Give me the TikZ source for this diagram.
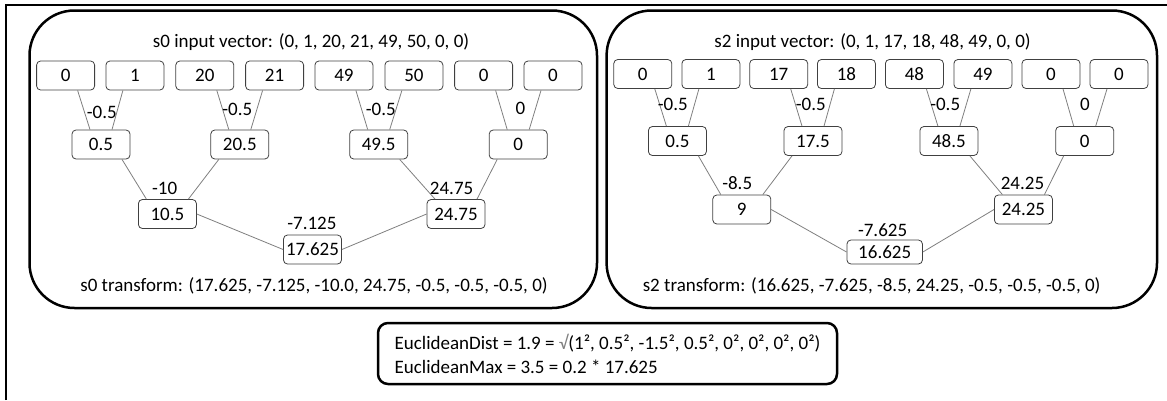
\documentclass[tikz,border=0pt]{standalone}
\usepackage{fontspec}
\setmainfont{Carlito}
\usetikzlibrary{calc}

\definecolor{boxgray}{HTML}{404040}
\definecolor{wiregray}{HTML}{7F7F7F}

\tikzset{
	every node/.style={font=\fontsize{19}{24}\selectfont},
	valbox/.style={draw=boxgray, line width=0.8pt, rounded corners=4pt, minimum width=58pt, minimum height=29pt, inner sep=1pt},
	wire/.style={draw=wiregray, line width=0.8pt},
	panel/.style={draw=black, line width=2.5pt, rounded corners=45pt},
	coef/.style={inner sep=0pt}
}

\begin{document}
\begin{tikzpicture}[x=1pt,y=-1pt]
	\pgfmathsetmacro{\lo}{12}		%offset of wire on the lower box
	\pgfmathsetmacro{\hi}{11}		%offset of wire on the upper box
	\pgfmathsetmacro{\mo}{21}		%offset of wires between middle rows

	\useasboundingbox (0,0) rectangle (1167,400);

	%frame
	\draw[line width=2pt] (5.5,400) -- (5.5,4.5) -- (1167,4.5);

	%left panel
	\draw[panel] (29.5,10.5) rectangle (597,308);
	\node (ltitle) at (311,42) {s0 input vector: (0, 1, 20, 21, 49, 50, 0, 0)};
	\node[valbox] (ll1) at (65.6,75.5) {0};
	\node[valbox] (ll2) at (134.9,75.5) {1};
	\node[valbox] (ll3) at (204.8,75.5) {20};
	\node[valbox] (ll4) at (274.6,75.5) {21};
	\node[valbox] (ll5) at (343.9,75.5) {49};
	\node[valbox] (ll6) at (413.9,75.5) {50};
	\node[valbox] (ll7) at (483.6,75.5) {0};
	\node[valbox] (ll8) at (553,75.5) {0};
	\node[valbox] (lm1) at (101,144.5) {0.5};
	\node[valbox] (lm2) at (239.8,144.5) {20.5};
	\node[valbox] (lm3) at (378.7,144.5) {49.5};
	\node[valbox] (lm4) at (518.2,144.5) {0};
	\node[valbox] (ln1) at (167.4,214) {10.5};
	\node[valbox] (ln2) at (456,214) {24.75};
	\node[valbox] (lroot) at (312.5,249.5) {17.625};
	\node (lresult) at (314,286) {s0 transform: (17.625, -7.125, -10.0, 24.75, -0.5, -0.5, -0.5, 0)};

	\draw[wire] ($(ll1.south)+(\lo,0)$) -- ($(lm1.north)+(-\hi,0)$);
	\draw[wire] ($(ll2.south)+(-\lo,0)$) -- ($(lm1.north)+(\hi,0)$);
	\draw[wire] ($(ll3.south)+(\lo,0)$) -- ($(lm2.north)+(-\hi,0)$);
	\draw[wire] ($(ll4.south)+(-\lo,0)$) -- ($(lm2.north)+(\hi,0)$);
	\draw[wire] ($(ll5.south)+(\lo,0)$) -- ($(lm3.north)+(-\hi,0)$);
	\draw[wire] ($(ll6.south)+(-\lo,0)$) -- ($(lm3.north)+(\hi,0)$);
	\draw[wire] ($(ll7.south)+(\lo,0)$) -- ($(lm4.north)+(-\hi,0)$);
	\draw[wire] ($(ll8.south)+(-\lo,0)$) -- ($(lm4.north)+(\hi,0)$);
	\draw[wire] ($(lm1.south)+(\mo,0)$) -- ($(ln1.north)+(-\mo,0)$);
	\draw[wire] ($(lm2.south)+(-\mo,0)$) -- ($(ln1.north)+(\mo,0)$);
	\draw[wire] ($(lm3.south)+(\mo,0)$) -- ($(ln2.north)+(-\mo,0)$);
	\draw[wire] ($(lm4.south)+(-\mo,0)$) -- ($(ln2.north)+(\mo,0)$);
	\draw[wire] (ln1.east) -- (lroot.west);
	\draw[wire] (ln2.west) -- (lroot.east);

	\node[coef] (lc1) at (101.8,112) {-0.5};
	\node[coef] (lc2) at (237.3,109) {-0.5};
	\node[coef] (lc3) at (380.8,109) {-0.5};
	\node[coef] (lc4) at (520.5,108) {0};
	\node[coef] (lc5) at (164.6,188) {-10};
	\node[coef] (lc6) at (451.6,188) {24.75};
	\node[coef] (lc7) at (311.9,223) {-7.125};

	%right panel
	\draw[panel] (606.6,10.5) rectangle (1157,308);
	\node (rtitle) at (872.5,42) {s2 input vector: (0, 1, 17, 18, 48, 49, 0, 0)};
	\node[valbox] (rl1) at (642.8,74) {0};
	\node[valbox] (rl2) at (710.9,74) {1};
	\node[valbox] (rl3) at (778.7,74) {17};
	\node[valbox] (rl4) at (846.4,74) {18};
	\node[valbox] (rl5) at (914.4,74) {48};
	\node[valbox] (rl6) at (982.9,74) {49};
	\node[valbox] (rl7) at (1051,74) {0};
	\node[valbox] (rl8) at (1119,74) {0};
	\node[valbox] (rm1) at (677.4,141) {0.5};
	\node[valbox] (rm2) at (813,141) {17.5};
	\node[valbox] (rm3) at (948.9,141) {48.5};
	\node[valbox] (rm4) at (1084.7,141) {0};
	\node[valbox] (rn1) at (741.8,209.5) {9};
	\node[valbox] (rn2) at (1023.4,209.5) {24.25};
	\node[valbox, minimum width=75.5pt, minimum height=24pt] (rroot) at (884.7,252) {16.625};
	\node (rresult) at (871.6,286) {s2 transform: (16.625, -7.625, -8.5, 24.25, -0.5, -0.5, -0.5, 0)};

	\draw[wire] ($(rl1.south)+(\lo,0)$) -- ($(rm1.north)+(-\hi,0)$);
	\draw[wire] ($(rl2.south)+(-\lo,0)$) -- ($(rm1.north)+(\hi,0)$);
	\draw[wire] ($(rl3.south)+(\lo,0)$) -- ($(rm2.north)+(-\hi,0)$);
	\draw[wire] ($(rl4.south)+(-\lo,0)$) -- ($(rm2.north)+(\hi,0)$);
	\draw[wire] ($(rl5.south)+(\lo,0)$) -- ($(rm3.north)+(-\hi,0)$);
	\draw[wire] ($(rl6.south)+(-\lo,0)$) -- ($(rm3.north)+(\hi,0)$);
	\draw[wire] ($(rl7.south)+(\lo,0)$) -- ($(rm4.north)+(-\hi,0)$);
	\draw[wire] ($(rl8.south)+(-\lo,0)$) -- ($(rm4.north)+(\hi,0)$);
	\draw[wire] ($(rm1.south)+(\mo,0)$) -- ($(rn1.north)+(-\mo,0)$);
	\draw[wire] ($(rm2.south)+(-\mo,0)$) -- ($(rn1.north)+(\mo,0)$);
	\draw[wire] ($(rm3.south)+(\mo,0)$) -- ($(rn2.north)+(-\mo,0)$);
	\draw[wire] ($(rm4.south)+(-\mo,0)$) -- ($(rn2.north)+(\mo,0)$);
	\draw[wire] (rn1.east) -- (rroot.west);
	\draw[wire] (rn2.west) -- (rroot.east);

	\node[coef] (rc1) at (672.8,104) {-0.5};
	\node[coef] (rc2) at (810.8,104) {-0.5};
	\node[coef] (rc3) at (945.2,104) {-0.5};
	\node[coef] (rc4) at (1085,104) {0};
	\node[coef] (rc5) at (737.2,183) {-8.5};
	\node[coef] (rc6) at (1022.5,183) {24.25};
	\node[coef] (rc7) at (882.6,230) {-7.625};

	%distance box
	\node[draw=black, line width=2.5pt, rounded corners=10pt, minimum width=459pt, minimum height=61pt,
		align=left, inner xsep=6pt, inner ysep=3pt] (dist) at (607.5,353.5)
		{EuclideanDist = 1.9 = {\color{gray}√}(1², 0.5², -1.5², 0.5², 0², 0², 0², 0²)\\
		EuclideanMax = 3.5 = 0.2 * 17.625};
\end{tikzpicture}
\end{document}
